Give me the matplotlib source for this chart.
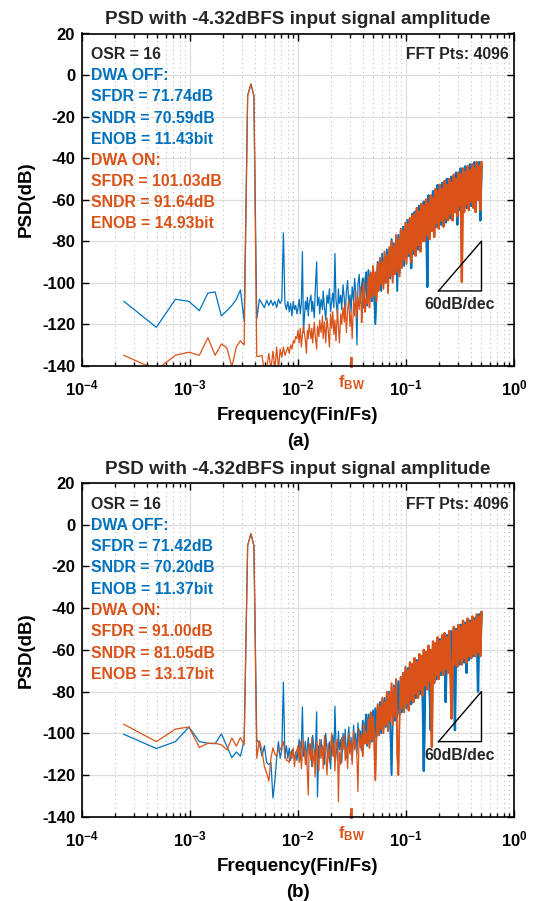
import numpy as np
import matplotlib
matplotlib.use('Agg')
import matplotlib.pyplot as plt
from matplotlib.ticker import LogLocator, NullFormatter

plt.rcParams['font.family'] = ['Liberation Sans', 'DejaVu Sans']
plt.rcParams['font.weight'] = 'bold'
plt.rcParams['axes.unicode_minus'] = False
plt.rcParams['mathtext.fontset'] = 'custom'
plt.rcParams['mathtext.rm'] = 'Liberation Sans:bold'
plt.rcParams['mathtext.bf'] = 'Liberation Sans:bold'
plt.rcParams['mathtext.it'] = 'Liberation Sans:bold'

# ---- data -------------------------------------------------------------
N_FFT = 4096
OSR = 16
f_bw = 0.5 / OSR

# low bins are drawn one by one, above bin 40 the FFT grid is subsampled
bins_lo = np.arange(1, 41)
bins_hi = np.round(41 * (2048 / 41) ** (np.arange(160) / 159)).astype(int)

# (a) DWA OFF
a_off_lo = [-109, -121.5, -108, -109, -113.5, -105, -104.5, -116, -113.5, -111,
            -108, -103.5, -118.5, -10, -4.3, -10, -117.5, -108, -110, -112,
            -108.5, -111, -108.5, -111, -109, -112, -108, -110, -108.5, -76,
            -110, -113, -109, -114, -110, -116, -109, -113, -111, -115]
a_off_hi = [-112, -108, -115, -110, -85, -124, -109, -113, -107, -116,
            -110, -106, -114, -109, -117, -105, -90, -111, -107, -115,
            -108, -113, -104, -112, -118, -106, -110, -103, -114, -109,
            -105, -112, -86, -108, -116, -103, -110, -106, -113, -101,
            -108, -117, -104, -99, -111, -106, -114, -102, -109, -98,
            -105, -130, -101, -96, -110, -103, -98, -112, -100, -95,
            -111, -94, -108, -96, -109, -93, -107, -120, -106, -90,
            -103, -89, -104, -86, -101, -88, -100, -84, -101, -85,
            -98, -79, -97, -81, -96, -78, -104, -77, -95, -75,
            -91, -73, -92, -74, -88, -70, -87, -71, -93, -67,
            -86, -66, -83, -65, -84, -63, -81, -65, -80, -61,
            -78, -61, -102, -58, -78, -60, -75, -56, -74, -57,
            -73, -53, -71, -55, -72, -52, -69, -54, -71, -50,
            -68, -51, -69, -49, -67, -50, -66, -47, -72, -48,
            -65, -45, -64, -47, -63, -44, -64, -46, -62, -43,
            -63, -44, -61, -42, -62, -43, -60, -42, -70, -44]
# (a) DWA ON
a_on_lo = [-135, -142, -135, -133.5, -135, -126.5, -135, -129.5, -131.5, -140.5,
           -131, -128, -130, -10, -4.3, -10, -135.5, -135.5, -135, -143,
           -141, -134, -142, -133, -142, -131, -142, -132, -136, -131,
           -135, -133, -131, -134, -130, -132, -128, -129, -126, -127]
a_on_hi = [-123, -129, -122, -131, -125, -121, -128, -134, -123, -127,
           -120, -127, -122, -129, -119, -125, -132, -121, -126, -118,
           -124, -116, -127, -119, -129, -117, -123, -131, -115, -122,
           -114, -125, -118, -128, -113, -121, -129, -115, -120, -112,
           -119, -110, -124, -113, -108, -121, -114, -127, -109, -116,
           -104, -117, -107, -113, -102, -119, -106, -100, -114, -108,
           -110, -97, -112, -95, -107, -92, -106, -95, -109, -91,
           -104, -88, -101, -90, -103, -85, -100, -87, -105, -83,
           -97, -80, -100, -82, -96, -77, -95, -79, -97, -74,
           -93, -75, -89, -71, -91, -72, -86, -69, -90, -68,
           -84, -67, -87, -64, -82, -66, -85, -62, -80, -63,
           -80, -60, -77, -62, -79, -58, -75, -59, -78, -55,
           -71, -56, -74, -53, -70, -55, -73, -51, -69, -53,
           -70, -50, -67, -52, -70, -48, -66, -50, -68, -47,
           -63, -48, -99.6, -45, -66, -47, -62, -44, -65, -46,
           -61, -43, -64, -45, -66, -42, -60, -44, -65, -42]

# (b) DWA OFF
b_off_lo = [-100.5, -107.3, -104, -97, -104, -104.8, -105, -100.3, -106.3, -111.7,
            -109, -111, -103.4, -10, -4.3, -10, -103, -105, -111, -106,
            -114, -115, -114, -131, -123, -112, -104, -112, -108, -75.5,
            -112, -106, -112, -107, -113, -108, -110, -112, -109, -113]
b_off_hi = [-108, -103, -113, -106, -87.3, -111, -104, -115, -107, -102,
            -110, -105, -116, -101, -109, -113, -89.7, -130.5, -106, -112,
            -103, -110, -107, -115, -100, -108, -112, -104, -117, -106,
            -101, -111, -87, -105, -113, -99, -108, -103, -114, -100,
            -107, -98, -112, -104, -97, -109, -102, -113, -96, -106,
            -100, -110, -95, -104, -99, -108, -94, -103, -97, -91,
            -106, -91, -105, -90, -104, -89, -103, -88, -102, -87,
            -101, -85, -100, -84, -98, -83, -97, -82, -98, -80,
            -96, -120, -94, -77, -94, -76, -92, -75, -91, -73,
            -90, -71, -89, -70, -88, -69, -87, -68, -86, -67,
            -84, -66, -83, -65, -82, -64, -81, -63, -80, -118,
            -79, -61, -78, -60, -77, -98.5, -76, -58, -75, -57,
            -74, -56, -73, -55, -72, -55, -71, -54, -85, -53,
            -70, -52, -70, -51, -69, -51, -98.5, -50, -68, -49,
            -67, -48, -66, -48, -66, -47, -71, -46, -65, -46,
            -64, -45, -63, -45, -63, -44, -80, -43, -62, -42]
# (b) DWA ON
b_on_lo = [-95.7, -104, -98, -97, -106.8, -104.8, -104.8, -105.5, -108, -102.3,
           -106.2, -102, -105.5, -10, -4.3, -10, -112, -103.5, -108, -116,
           -119, -123, -112, -107, -110, -111, -108, -108, -106, -104,
           -110, -113, -113, -114, -109, -112, -107, -116, -110, -108]
b_on_hi = [-106, -114, -104, -117, -109, -103, -115, -108, -119, -129.6,
           -105, -113, -102, -116, -108, -121, -104, -111, -118, -103,
           -112, -106, -117, -101, -110, -120, -105, -114, -107, -100,
           -111, -104, -118, -106, -103, -132.8, -109, -115, -102, -108,
           -101, -113, -106, -117, -100, -110, -104, -115, -99, -108,
           -103, -112, -128, -98, -107, -101, -111, -96, -105, -100,
           -105, -93, -107, -90, -103, -92, -104, -122.5, -100, -86,
           -101, -87, -98, -83, -100, -85, -96, -80, -99, -81,
           -94, -76, -96, -78, -92, -74, -109.7, -120, -93, -73,
           -88, -71, -90, -68, -86, -70, -89, -66, -84, -67,
           -85, -64, -81, -66, -83, -62, -79, -63, -82, -60,
           -77, -61, -79, -58, -75, -60, -106.5, -56, -76, -57,
           -72, -54, -74, -56, -70, -53, -72, -52, -69, -54,
           -71, -51, -68, -92.9, -69, -49, -67, -51, -68, -48,
           -65, -49, -67, -46, -64, -48, -66, -45, -63, -47,
           -64, -44, -62, -46, -63, -43, -61, -44, -63, -42]

metrics_a_off = ["SFDR = 71.74dB", "SNDR = 70.59dB", "ENOB = 11.43bit"]
metrics_a_on = ["SFDR = 101.03dB", "SNDR = 91.64dB", "ENOB = 14.93bit"]
metrics_b_off = ["SFDR = 71.42dB", "SNDR = 70.20dB", "ENOB = 11.37bit"]
metrics_b_on = ["SFDR = 91.00dB", "SNDR = 81.05dB", "ENOB = 13.17bit"]

slope_f = [0.2, 0.5, 0.5, 0.2]
slope_db = [-104, -104, -80, -104]

# ---- style ------------------------------------------------------------
BLUE = '#0072BD'
ORANGE = '#D95319'
TXT = '#262626'
W, H = 534, 901

freq = np.concatenate([bins_lo, bins_hi]) / N_FFT
n_lo = len(bins_lo)


def trace(ax, db, color):
    db = np.asarray(db, dtype=float)
    ax.semilogx(freq, db, color=color, lw=0.9)
    # the real FFT has many bins per pixel up there: thicker strokes fill the band
    ax.semilogx(freq[n_lo + 55:], db[n_lo + 55:], color=color, lw=1.3)
    ax.semilogx(freq[n_lo + 95:], db[n_lo + 95:], color=color, lw=1.7)


def draw_panel(ax, off_db, on_db, m_off, m_on):
    trace(ax, off_db, BLUE)
    trace(ax, on_db, ORANGE)
    ax.set_xlim(1e-4, 1)
    ax.set_ylim(-140, 20)
    ax.set_yticks(np.arange(-140, 21, 20))
    ax.set_xticks([1e-4, 1e-3, 1e-2, 1e-1, 1])
    ax.set_xticklabels([r'$\mathbf{10^{-4}}$', r'$\mathbf{10^{-3}}$', r'$\mathbf{10^{-2}}$',
                        r'$\mathbf{10^{-1}}$', r'$\mathbf{10^{0}}$'])
    ax.xaxis.set_minor_locator(LogLocator(base=10, subs=np.arange(2, 10), numticks=20))
    ax.xaxis.set_minor_formatter(NullFormatter())
    ax.set_axisbelow(True)
    ax.grid(True, which='major', color='#dedede', lw=0.9)
    ax.grid(True, which='minor', axis='x', color='#bdbdbd', ls=(0, (1, 3)), lw=0.8)
    ax.tick_params(which='both', direction='in', top=True, right=True, width=1.0, color='k')
    ax.tick_params(which='major', length=5, labelsize=12, pad=5)
    ax.tick_params(which='major', axis='x', pad=9)
    ax.tick_params(which='minor', length=3)
    for s in ax.spines.values():
        s.set_linewidth(1.2)
        s.set_color('k')

    # text block
    x0, y0, dy = 0.021, 0.937, 0.0638
    fs = 11.4
    ax.text(x0, y0, "OSR = %d" % OSR, transform=ax.transAxes, color=TXT,
            fontsize=fs, fontweight='bold', va='center')
    ax.text(0.989, y0, "FFT Pts: %d" % N_FFT, transform=ax.transAxes, color=TXT,
            fontsize=fs, fontweight='bold', va='center', ha='right')
    lines = [("DWA OFF:", BLUE)] + [(t, BLUE) for t in m_off] + \
            [("DWA ON:", ORANGE)] + [(t, ORANGE) for t in m_on]
    for i, (t, c) in enumerate(lines):
        ax.text(x0, y0 - (i + 1) * dy, t, transform=ax.transAxes, color=c,
                fontsize=fs, fontweight='bold', va='center')

    # 60dB/dec slope triangle
    ax.plot(slope_f, slope_db, color='k', lw=1.0)
    ax.text(0.316, -110.5, "60dB/dec", color=TXT, fontsize=fs, fontweight='bold',
            ha='center', va='center')

    # signal bandwidth marker
    ax.plot([f_bw, f_bw], [-140, -136.4], color=ORANGE, lw=2.0, clip_on=False)
    ax.text(f_bw, -143.5, r'$\mathbf{f_{BW}}$', color=ORANGE, fontsize=12,
            ha='center', va='top')


fig = plt.figure(figsize=(W / 100, H / 100), dpi=100)
ax_a = fig.add_axes([82 / W, 1 - 365.7 / H, 432 / W, 332.2 / H])
ax_b = fig.add_axes([82 / W, 1 - 816.7 / H, 432 / W, 333.7 / H])

draw_panel(ax_a, a_off_lo + a_off_hi, a_on_lo + a_on_hi, metrics_a_off, metrics_a_on)
draw_panel(ax_b, b_off_lo + b_off_hi, b_on_lo + b_on_hi, metrics_b_off, metrics_b_on)

title = "PSD with -4.32dBFS input signal amplitude"
xc = (82 + 514) / 2 / W
for top, bottom, tag in [(33.5, 365.7, "(a)"), (483, 816.7, "(b)")]:
    fig.text(xc, 1 - (top - 9) / H, title, ha='center', va='baseline',
             fontsize=13.6, fontweight='bold', color=TXT)
    fig.text(xc, 1 - (bottom + 54) / H, "Frequency(Fin/Fs)", ha='center', va='baseline',
             fontsize=13.5, fontweight='bold', color='k')
    fig.text(xc, 1 - (bottom + 80) / H, tag, ha='center', va='baseline',
             fontsize=13.5, fontweight='bold', color='k')
    fig.text(26 / W, 1 - (top + bottom) / 2 / H, "PSD(dB)", ha='center', va='center',
             rotation=90, fontsize=13.5, fontweight='bold', color='k')

fig.savefig('out.png', dpi=100)
